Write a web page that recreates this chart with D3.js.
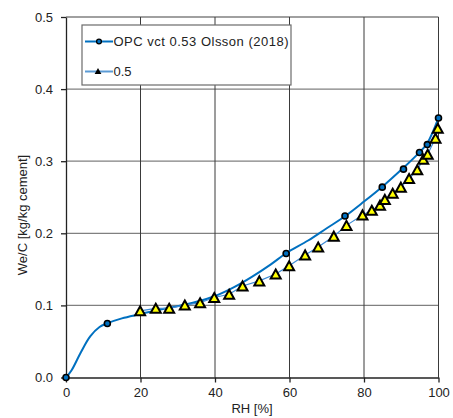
<!DOCTYPE html>
<html>
<head>
<meta charset="utf-8">
<script src="https://cdn.jsdelivr.net/npm/d3@7"></script>
<style>
  html, body { margin: 0; padding: 0; background: #fff; }
  svg { display: block; font-family: "Liberation Sans", Arial, sans-serif; }
</style>
</head>
<body>
<svg id="chart" width="453" height="418"></svg>
<script>
// Sorption isotherm: evaporable water per cement vs relative humidity

// Olsson (2018) desorption curve, traced points (RH %, We/C)
const olssonCurveRH = [0, 1.5, 4, 6.5, 9, 11, 15, 20, 25, 30, 35, 40, 45, 50, 55, 59, 65, 70, 75, 80, 85, 90, 95, 97, 100];
const olssonCurveWC = [0, 0.010, 0.035, 0.057, 0.070, 0.075, 0.082, 0.088, 0.094, 0.099, 0.105, 0.113, 0.125, 0.140, 0.157, 0.172, 0.190, 0.207, 0.224, 0.244, 0.265, 0.288, 0.313, 0.325, 0.360];

// Olsson (2018) measured points
const olssonPointRH = [0, 11.1, 59.1, 74.9, 84.9, 90.6, 94.9, 97.0, 100];
const olssonPointWC = [0, 0.075, 0.172, 0.224, 0.264, 0.289, 0.312, 0.323, 0.360];

// w/c 0.5 series
const w05RH = [19.9, 24.1, 27.7, 31.9, 36.0, 39.8, 43.8, 47.4, 51.9, 56.3, 59.9, 64.2, 67.7, 71.9, 75.3, 79.6, 82.1, 84.3, 85.6, 87.7, 89.9, 92.1, 94.3, 95.9, 97.1, 99.2, 99.8];
const w05WC = [0.0925, 0.096, 0.096, 0.1005, 0.1037, 0.111, 0.1154, 0.127, 0.134, 0.1435, 0.155, 0.170, 0.181, 0.196, 0.211, 0.2255, 0.232, 0.239, 0.247, 0.2555, 0.264, 0.276, 0.288, 0.3026, 0.3096, 0.332, 0.3456];

const xTicks = [0, 20, 40, 60, 80, 100];
const yTicks = [0.0, 0.1, 0.2, 0.3, 0.4, 0.5];

const seriesNames = ["OPC vct 0.53 Olsson (2018)", "0.5"];
const xTitle = "RH [%]";
const yTitle = "We/C [kg/kg cement]";

const svg = d3.select("#chart");
const FONT = 13;

const x = d3.scaleLinear().domain([0, 100]).range([66, 438.5]);
const y = d3.scaleLinear().domain([0, 0.5]).range([377.5, 17]);

// Horizontal gridlines
svg.append("g")
  .selectAll("line")
  .data(yTicks.slice(1))
  .join("line")
  .attr("x1", x(0)).attr("x2", x(100))
  .attr("y1", d => y(d)).attr("y2", d => y(d))
  .attr("stroke", "#808080").attr("stroke-width", 1.3);

// Vertical gridlines
svg.append("g")
  .selectAll("line")
  .data(xTicks.slice(1))
  .join("line")
  .attr("x1", d => x(d)).attr("x2", d => x(d))
  .attr("y1", y(0)).attr("y2", y(0.5))
  .attr("stroke", "#3a3a3a").attr("stroke-width", 1);

// Axes
const yAxis = d3.axisLeft(y).tickValues(yTicks).tickFormat(d3.format(".1f")).tickSizeInner(5).tickSizeOuter(0).tickPadding(8);
const xAxis = d3.axisBottom(x).tickValues(xTicks).tickFormat(d3.format("d")).tickSizeInner(5).tickSizeOuter(0).tickPadding(5);

const gy = svg.append("g").attr("transform", `translate(${x(0)},0)`).call(yAxis);
const gx = svg.append("g").attr("transform", `translate(0,${y(0)})`).call(xAxis);
[gx, gy].forEach(g => {
  g.select(".domain").attr("stroke", "#222").attr("stroke-width", 1.3);
  g.selectAll(".tick line").attr("stroke", "#222").attr("stroke-width", 1.3);
  g.selectAll(".tick text").attr("font-size", FONT).attr("fill", "#222")
    .attr("font-family", "'Liberation Sans', Arial, sans-serif");
});

// Axis titles
svg.append("text")
  .attr("x", 252).attr("y", 413)
  .attr("text-anchor", "middle").attr("font-size", FONT).attr("fill", "#222")
  .text(xTitle);
svg.append("text")
  .attr("transform", `translate(26.5,215) rotate(-90)`)
  .attr("text-anchor", "middle").attr("font-size", FONT).attr("fill", "#222")
  .text(yTitle);

// Custom triangle marker (apex up, centred on the point)
const triangleType = {
  draw(ctx, size) {
    const w = Math.sqrt(size) * 1.05, h = Math.sqrt(size) * 0.95;
    ctx.moveTo(0, -h / 2);
    ctx.lineTo(w / 2, h / 2);
    ctx.lineTo(-w / 2, h / 2);
    ctx.closePath();
  }
};

const line = d3.line().curve(d3.curveCatmullRom.alpha(0.5));

// Series 1: Olsson curve and points
const olssonCurve = olssonCurveRH.map((r, i) => [x(r), y(olssonCurveWC[i])]);
svg.append("path")
  .attr("d", line(olssonCurve))
  .attr("fill", "none").attr("stroke", "#0070C0").attr("stroke-width", 2);

svg.append("g")
  .selectAll("circle")
  .data(olssonPointRH.map((r, i) => [r, olssonPointWC[i]]))
  .join("circle")
  .attr("cx", d => x(d[0])).attr("cy", d => y(d[1]))
  .attr("r", 3)
  .attr("fill", "#0070C0").attr("stroke", "#000").attr("stroke-width", 1.6);

// Series 2: w/c 0.5
const w05 = w05RH.map((r, i) => [r, w05WC[i]]);
svg.append("path")
  .attr("d", d3.line().x(d => x(d[0])).y(d => y(d[1]))(w05))
  .attr("fill", "none").attr("stroke", "#3d8bd4").attr("stroke-width", 1.2);

svg.append("g")
  .selectAll("path")
  .data(w05)
  .join("path")
  .attr("transform", d => `translate(${x(d[0])},${y(d[1])})`)
  .attr("d", d3.symbol().type(triangleType).size(90))
  .attr("fill", "#FFFF00").attr("stroke", "#000").attr("stroke-width", 2).attr("stroke-linejoin", "miter");

// Legend
const legend = svg.append("g");
legend.append("rect")
  .attr("x", 82).attr("y", 25).attr("width", 209).attr("height", 60)
  .attr("fill", "#fff").attr("stroke", "#6b6b6b").attr("stroke-width", 1.2);

const legendRows = [
  { name: seriesNames[0], y: 41.5, stroke: "#0070C0", width: 175 },
  { name: seriesNames[1], y: 71.5, stroke: "#5B9BD5", width: null }
];
legendRows.forEach((row, i) => {
  legend.append("line")
    .attr("x1", 85).attr("x2", 113).attr("y1", row.y).attr("y2", row.y)
    .attr("stroke", row.stroke).attr("stroke-width", 2);
  if (i === 0) {
    legend.append("circle").attr("cx", 99).attr("cy", row.y).attr("r", 2.4)
      .attr("fill", "#0070C0").attr("stroke", "#000").attr("stroke-width", 1.3);
  } else {
    legend.append("path")
      .attr("transform", `translate(98,${row.y - 0.5})`)
      .attr("d", d3.symbol().type(triangleType).size(42))
      .attr("fill", "#000");
  }
  const t = legend.append("text")
    .attr("x", 113.5).attr("y", row.y + 4.5)
    .attr("font-size", FONT).attr("fill", "#222")
    .text(row.name);
  if (row.width) t.attr("textLength", row.width).attr("lengthAdjust", "spacing");
});
</script>
</body>
</html>
